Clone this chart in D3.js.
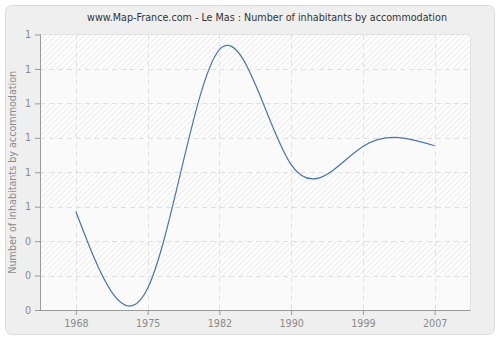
<!DOCTYPE html>
<html>
<head>
<meta charset="utf-8">
<script src="https://cdn.jsdelivr.net/npm/d3@7"></script>
<style>
body { margin: 0; background: #fff; }
text { font-family: "DejaVu Sans", Verdana, sans-serif; }
</style>
</head>
<body>
<svg width="500" height="340"></svg>
<script>
var years = ["1968", "1975", "1982", "1990", "1999", "2007"];
var values = [0.486, 0.263, 0.956, 0.622, 0.675, 0.677];
var yTicks = [0.2, 0.3, 0.4, 0.5, 0.6, 0.7, 0.8, 0.9, 1.0];
var yTickLabels = ["0", "0", "0", "1", "1", "1", "1", "1", "1"];

var plotLeft = 40, plotRight = 470.5, plotTop = 34.5, plotBottom = 310;

var svg = d3.select("svg");

var defs = svg.append("defs");
defs.append("pattern")
    .attr("id", "hatch")
    .attr("width", 4).attr("height", 4)
    .attr("patternUnits", "userSpaceOnUse")
    .attr("patternTransform", "rotate(45)")
  .append("rect")
    .attr("width", 1.2).attr("height", 4)
    .attr("fill", "#ececec");

// outer frame
svg.append("rect")
    .attr("x", 5.5).attr("y", 5.5)
    .attr("width", 489).attr("height", 329)
    .attr("rx", 6)
    .attr("fill", "#efefef")
    .attr("stroke", "#dcdcdc");

var x = d3.scalePoint()
    .domain(years)
    .range([plotLeft, plotRight])
    .padding(0.5);

var y = d3.scaleLinear()
    .domain([0.2, 1.0])
    .range([plotBottom, plotTop]);

// plot background bands
var bands = d3.range(yTicks.length - 1);
svg.selectAll(".band")
    .data(bands)
  .enter().append("rect")
    .attr("x", plotLeft)
    .attr("width", plotRight - plotLeft)
    .attr("y", d => y(yTicks[d + 1]))
    .attr("height", d => y(yTicks[d]) - y(yTicks[d + 1]))
    .attr("fill", d => (yTicks.length - 2 - d) % 2 == 0 ? "#ffffff" : "#fafafa");
svg.selectAll(".hband")
    .data(bands.filter(d => (yTicks.length - 2 - d) % 2 == 0))
  .enter().append("rect")
    .attr("x", plotLeft)
    .attr("width", plotRight - plotLeft)
    .attr("y", d => y(yTicks[d + 1]))
    .attr("height", d => y(yTicks[d]) - y(yTicks[d + 1]))
    .attr("fill", "url(#hatch)");

// plot border top/right
svg.append("path")
    .attr("d", "M" + plotLeft + "," + plotTop + "H" + plotRight + "V" + plotBottom)
    .attr("fill", "none")
    .attr("stroke", "#e2e2e2");

// grid
svg.selectAll(".hgrid")
    .data(yTicks.slice(1, -1))
  .enter().append("line")
    .attr("x1", plotLeft).attr("x2", plotRight)
    .attr("y1", d => Math.round(y(d)) + 0.5)
    .attr("y2", d => Math.round(y(d)) + 0.5)
    .attr("stroke", "#e0e0e0")
    .attr("stroke-dasharray", "5,4");
svg.selectAll(".vgrid")
    .data(years)
  .enter().append("line")
    .attr("x1", d => Math.round(x(d)) + 0.5)
    .attr("x2", d => Math.round(x(d)) + 0.5)
    .attr("y1", plotTop).attr("y2", plotBottom)
    .attr("stroke", "#e0e0e0")
    .attr("stroke-dasharray", "5,4");

// axes
var yAxis = svg.append("g")
    .attr("transform", "translate(" + plotLeft + ",0)")
    .call(d3.axisLeft(y).tickValues(yTicks).tickSize(5).tickPadding(4)
        .tickFormat((d, i) => yTickLabels[i]));
var xAxis = svg.append("g")
    .attr("transform", "translate(0," + plotBottom + ")")
    .call(d3.axisBottom(x).tickSize(5).tickPadding(5).tickSizeOuter(0));
xAxis.select(".domain").attr("d", "M" + plotLeft + ",0.5H" + plotRight);
yAxis.select(".domain").attr("d", "M0.5," + plotTop + "V" + plotBottom);

svg.selectAll(".domain").attr("stroke", "#9a9a9a");
svg.selectAll(".tick line").attr("stroke", "#9a9a9a");
svg.selectAll(".tick text")
    .attr("fill", "#8a8a8a")
    .style("font-size", "9.6px");

// line
var line = d3.line()
    .x((d, i) => x(years[i]))
    .y(d => y(d))
    .curve(d3.curveNatural);
svg.append("path")
    .datum(values)
    .attr("d", line)
    .attr("fill", "none")
    .attr("stroke", "#4a76ad")
    .attr("stroke-width", 1.2);

// titles
svg.append("text")
    .attr("x", 267).attr("y", 21)
    .attr("text-anchor", "middle")
    .attr("fill", "#333")
    .style("font-size", "9.6px")
    .text("www.Map-France.com - Le Mas : Number of inhabitants by accommodation");

svg.append("text")
    .attr("transform", "translate(16," + ((plotTop + plotBottom) / 2) + ") rotate(-90)")
    .attr("text-anchor", "middle")
    .attr("fill", "#8a8a8a")
    .style("font-size", "9.6px")
    .text("Number of inhabitants by accommodation");
</script>
</body>
</html>
